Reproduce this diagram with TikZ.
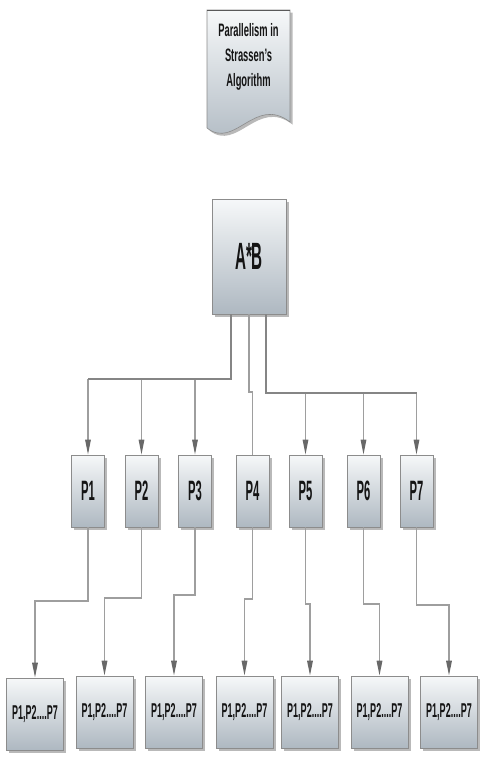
\documentclass[tikz,border=0pt]{standalone}
\usepackage{fontspec}
\setmainfont{Liberation Sans}
\newfontfamily\condfont[FakeStretch=0.45]{Liberation Sans}
\newfontfamily\condfontB[FakeStretch=0.4]{Liberation Sans}
\newfontfamily\titlefont[FakeStretch=0.52]{Liberation Sans}
\usetikzlibrary{shadows,arrows.meta,calc}
\definecolor{boxtop}{HTML}{F6F8F9}
\definecolor{boxbot}{HTML}{AEB8C1}
\definecolor{lineg}{HTML}{9E9E9E}
\definecolor{trunkg}{HTML}{858585}
\definecolor{tipg}{HTML}{686868}
\definecolor{edgeg}{HTML}{8C8C8C}
\definecolor{txt}{HTML}{141414}
\begin{document}
\begin{tikzpicture}[x=1pt,y=-1pt,
 box/.style={draw=edgeg, line width=0.6pt, top color=boxtop, bottom color=boxbot,
   inner sep=0pt, text=txt,
   drop shadow={shadow xshift=2.5pt, shadow yshift=-2.5pt, fill=black!50, opacity=0.55}},
 pbox/.style={box, minimum width=33pt, minimum height=72pt,
   font=\condfontB\bfseries\fontsize{28}{28}\selectfont},
 rbox/.style={box, minimum width=57pt, minimum height=72pt,
   font=\condfont\bfseries\fontsize{20}{20}\selectfont},
 conn/.style={draw=lineg, line width=1.2pt},
 trunk/.style={draw=trunkg, line width=2.4pt},
 arr/.style={conn, -{Triangle[length=15pt,width=5.5pt,color=tipg,fill=tipg]}},
 arrb/.style={arr, line width=1.6pt}
]
\useasboundingbox (0,0) rectangle (483,777);

% document shape
\fill[black!50, opacity=0.55, shift={(2.5,2.5)}]
  (207,10) -- (290,10) -- (290,122) .. controls (255,95) and (235,150) .. (207,128) -- cycle;
\path[draw=edgeg, line width=0.6pt, top color=boxtop, bottom color=boxbot]
  (207,10) -- (290,10) -- (290,122) .. controls (255,95) and (235,150) .. (207,128) -- cycle;
\draw[black!65, line width=1pt] (207,10) -- (290,10);
\node[font=\titlefont\bfseries\fontsize{18}{25}\selectfont, align=center, text=txt]
  (title) at (248.5,57) {Parallelism in\\Strassen’s\\Algorithm};

% main box
\node[box, minimum width=74pt, minimum height=115pt,
  font=\condfontB\bfseries\fontsize{38}{38}\selectfont] (AB) at (249,256.5) {A*B};

% P boxes
\node[pbox] (P1) at (88,491) {P1};
\node[pbox] (P2) at (141.5,491) {P2};
\node[pbox] (P3) at (195,491) {P3};
\node[pbox] (P4) at (252.5,491) {P4};
\node[pbox] (P5) at (305.5,491) {P5};
\node[pbox] (P6) at (363.5,491) {P6};
\node[pbox] (P7) at (416.5,491) {P7};

% result boxes
\node[rbox] (B1) at (35,714) {P1,P2....P7};
\node[rbox] (B2) at (104.5,712) {P1,P2....P7};
\node[rbox] (B3) at (174,712) {P1,P2....P7};
\node[rbox] (B4) at (244.5,712) {P1,P2....P7};
\node[rbox] (B5) at (310,712) {P1,P2....P7};
\node[rbox] (B6) at (379.5,712) {P1,P2....P7};
\node[rbox] (B7) at (449,712) {P1,P2....P7};

% top connectors
\path (P1.north |- 0,379) coordinate (t1);
\path (P7.north |- 0,393) coordinate (t2);
\draw[arr] (t1) -- (P1.north);
\draw[arr] (P2.north |- t1) -- (P2.north);
\draw[arr] (P3.north |- t1) -- (P3.north);
\draw[arr] (P5.north |- t2) -- (P5.north);
\draw[arr] (P6.north |- t2) -- (P6.north);
\draw[arr] (t2) -- (P7.north);
\draw[conn] (AB.south) -- (AB.south |- 0,392) -| (P4.north);
\draw[trunk] ([xshift=-18pt]AB.south) |- (t1);
\draw[trunk] ([xshift=17pt]AB.south) |- (t2);

% bottom connectors
\draw[arrb] (P1.south) -- (P1.south |- 0,601) -| (B1.north);
\draw[arrb] (P2.south) -- (P2.south |- 0,598) -| (B2.north);
\draw[arrb] (P3.south) -- (P3.south |- 0,595) -| (B3.north);
\draw[arrb] (P4.south) -- (P4.south |- 0,599) -| (B4.north);
\draw[arrb] (P5.south) -- (P5.south |- 0,604) -| (B5.north);
\draw[arrb] (P6.south) -- (P6.south |- 0,604) -| (B6.north);
\draw[arrb] (P7.south) -- (P7.south |- 0,605) -| (B7.north);
\end{tikzpicture}
\end{document}
